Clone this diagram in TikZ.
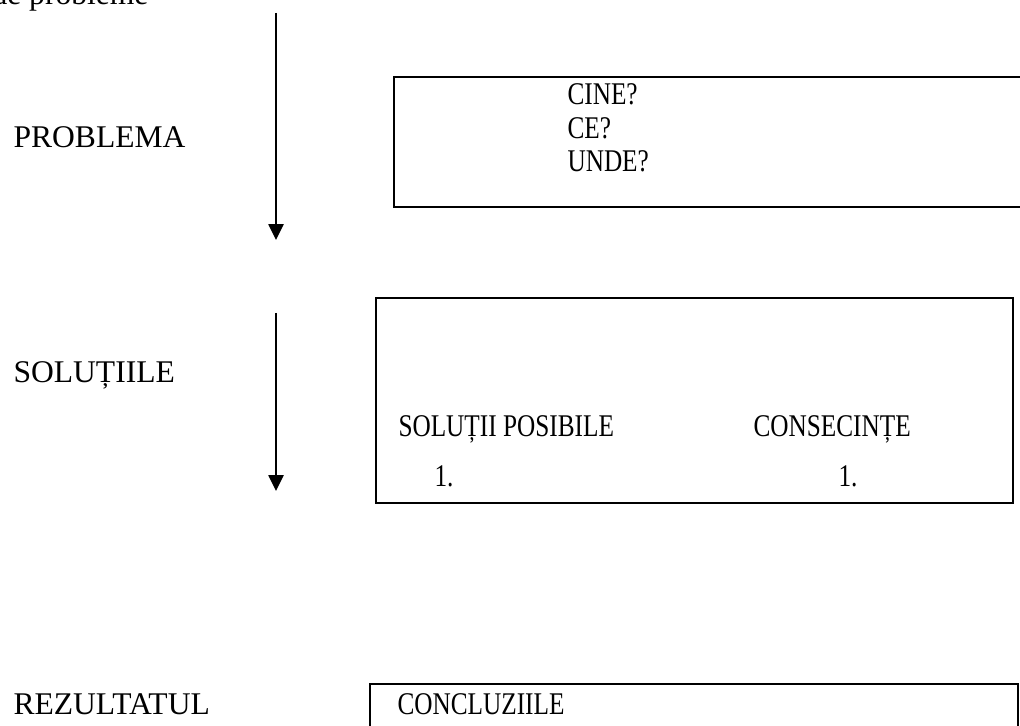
\documentclass[tikz,border=0pt]{standalone}
\usepackage{fontspec}
\usepackage{graphicx}
\setmainfont{Liberation Serif}
\usetikzlibrary{arrows.meta}
% box entries are set slightly condensed
\newcommand\narrowtxt[1]{\scalebox{0.8}[1]{#1}}
\begin{document}
\begin{tikzpicture}[x=0.38pt, y=-0.38pt,
  txt/.style={anchor=base west, inner sep=0pt, font=\fontsize{12}{14}\selectfont},
  frame/.style={draw, line width=0.75pt},
  flow/.style={line width=0.75pt, -{Triangle[width=5.7pt, length=6pt]}}]
  \useasboundingbox (0,0) rectangle (1020,726);
  \clip (0,0) rectangle (1020,726);

  % heading line at the top edge
  \node[txt] (head) at (-9,5) {de probleme};

  % left-hand stage labels
  \node[txt] (lprob) at (13,148) {PROBLEMA};
  \node[txt] (lsol)  at (13,383) {SOLUȚIILE};
  \node[txt] (lrez)  at (13,715) {REZULTATUL};

  % downward arrows
  \coordinate (a1s) at (276,13);
  \coordinate (a1e) at (276,240);
  \coordinate (a2s) at (276,313);
  \coordinate (a2e) at (276,491);
  \draw[flow] (a1s) -- (a1e);
  \draw[flow] (a2s) -- (a2e);

  % problem box
  \draw[frame] (394,77) rectangle (1040,207);
  \node[txt] (cine)  at (567,105) {\narrowtxt{CINE?}};
  \node[txt] (ce)    at (567,139) {\narrowtxt{CE?}};
  \node[txt] (unde)  at (567,172) {\narrowtxt{UNDE?}};

  % solutions box
  \draw[frame] (376,298) rectangle (1013,503);
  \node[txt] (sp)  at (398,437) {\narrowtxt{SOLUȚII POSIBILE}};
  \node[txt] (cs)  at (753,437) {\narrowtxt{CONSECINȚE}};
  \node[txt] (n1)  at (434,487) {\narrowtxt{1.}};
  \node[txt] (n2)  at (838,487) {\narrowtxt{1.}};

  % result box
  \draw[frame] (370,684) rectangle (1018,760);
  \node[txt] (conc) at (397,715) {\narrowtxt{CONCLUZIILE}};
\end{tikzpicture}
\end{document}
